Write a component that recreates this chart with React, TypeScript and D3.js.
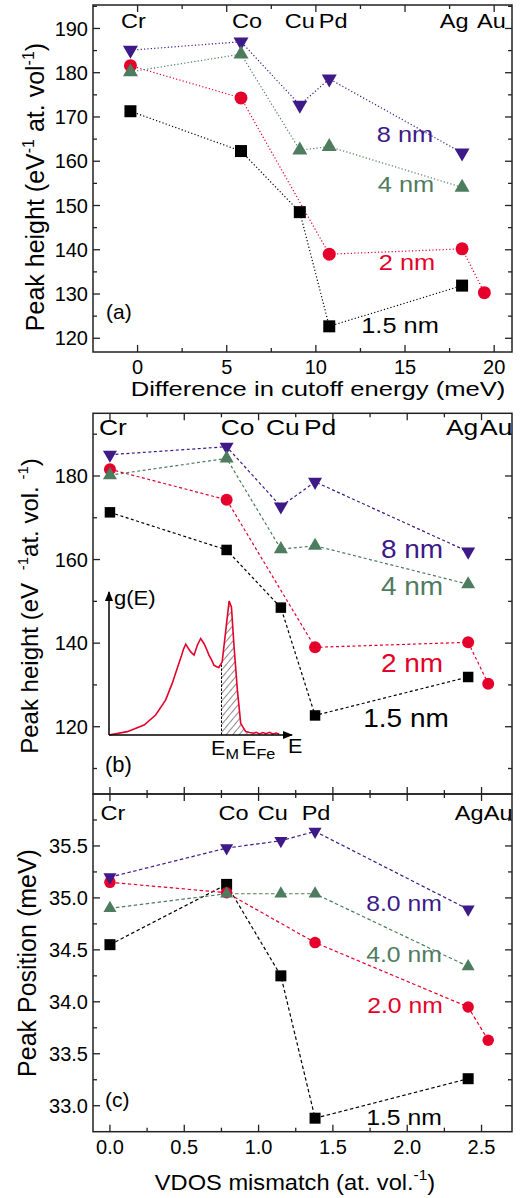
import React from 'react';
import * as d3 from 'd3';

// element order on every panel
const elements = ['Cr', 'Co', 'Cu', 'Pd', 'Ag', 'Au'];
const cutoffDiff = [-0.4, 5.8, 9.1, 10.75, 18.2, 19.45];
const vdosMismatch = [0, 0.785, 1.15, 1.38, 2.41, 2.545];

// peak height (eV-1 at. vol-1), null = no point
const height15 = [171.3, 162.3, 148.5, 122.7, 131.9, null];
const height2 = [181.6, 174.3, null, 139.0, 140.2, 130.3];
const height4 = [180.2, 184.2, 162.5, 163.3, 154.1, null];
const height8 = [185.1, 187.0, 172.7, 178.6, 161.9, null];

// peak position (meV)
const pos15 = [34.55, 35.13, 34.25, 32.88, 33.26, null];
const pos2 = [35.15, 35.05, null, 34.57, 33.95, 33.63];
const pos4 = [34.9, 35.04, 35.04, 35.04, 34.34, null];
const pos8 = [35.2, 35.48, 35.55, 35.64, 34.89, null];

// inset g(E) sketch
const insetE = [0, 5.5, 10.6, 14.1, 17.1, 19.1, 20.6, 21.8, 22.5, 23.2, 24.0, 24.7, 25.7, 26.7, 27.7, 28.7, 29.5, 30.2, 31.0, 31.7, 32.5, 33.2, 34.2, 35.3, 36.3, 37.0, 37.8, 38.8, 39.8, 41.3, 42.5, 43.8, 44.5, 45.5, 46.5, 47.5, 48.5, 49.5, 50.5, 51.4];
const insetG = [0, 0.025, 0.074, 0.149, 0.26, 0.385, 0.497, 0.583, 0.64, 0.678, 0.645, 0.62, 0.596, 0.67, 0.72, 0.683, 0.64, 0.596, 0.56, 0.521, 0.51, 0.504, 0.546, 0.782, 1.0, 0.955, 0.657, 0.335, 0.087, 0.025, 0.018, 0.013, 0.02, 0.008, 0.018, 0.01, 0.02, 0.008, 0.015, 0.007];
const energyM = 34.0;

const PURPLE = '#3d1a87';
const GREEN = '#4e7c5f';
const RED = '#e4002b';
const BLACK = '#000';
const FONT = '"Liberation Sans", Arial, sans-serif';

type Series = { key: string; color: string; shape: 'square' | 'circle' | 'up' | 'down' };
const series: Series[] = [
  { key: '1.5', color: BLACK, shape: 'square' },
  { key: '2', color: RED, shape: 'circle' },
  { key: '8', color: PURPLE, shape: 'down' },
  { key: '4', color: GREEN, shape: 'up' },
];
const heightData: Record<string, (number | null)[]> = { '1.5': height15, '2': height2, '4': height4, '8': height8 };
const posData: Record<string, (number | null)[]> = { '1.5': pos15, '2': pos2, '4': pos4, '8': pos8 };

const L = 93, R = 512;

// text stretched horizontally (the figure's lettering is wider than Arial)
function ST({ x, y, size, k = 1.18, fill = BLACK, anchor = 'middle', children }: any) {
  return (
    <text transform={`translate(${x},${y}) scale(${k},1)`} fontFamily={FONT} fontSize={size} fill={fill} textAnchor={anchor}>
      {children}
    </text>
  );
}

function Marker({ x, y, s, color }: { x: number; y: number; s: { shape: string; size: number }; color: string }) {
  let d: string | null = null;
  let rot = 0;
  if (s.shape === 'square') d = d3.symbol().type(d3.symbolSquare).size(s.size * s.size)();
  if (s.shape === 'circle') d = d3.symbol().type(d3.symbolCircle).size(Math.PI * (s.size / 2) ** 2)();
  if (s.shape === 'up' || s.shape === 'down') {
    d = d3.symbol().type(d3.symbolTriangle).size((Math.sqrt(3) / 4) * s.size * s.size)();
    if (s.shape === 'down') rot = 180;
  }
  return <path d={d || ''} transform={`translate(${x},${y}) rotate(${rot})`} fill={color} />;
}

function Frame({ x, y, xMajor, xMinor, yMajor, yMinor, xFmt, yFmt, tickFont }: any) {
  const [x0, x1] = x.range();
  const [y1, y0] = y.range();
  const M = 7, m = 4;
  const out: any[] = [];
  xMajor.forEach((v: number, i: number) => {
    const px = x(v);
    out.push(<line key={'xt' + i} x1={px} x2={px} y1={y1} y2={y1 - M} />);
    out.push(<line key={'xtt' + i} x1={px} x2={px} y1={y0} y2={y0 + M} />);
  });
  xMinor.forEach((v: number, i: number) => {
    const px = x(v);
    out.push(<line key={'xm' + i} x1={px} x2={px} y1={y1} y2={y1 - m} />);
    out.push(<line key={'xmt' + i} x1={px} x2={px} y1={y0} y2={y0 + m} />);
  });
  yMajor.forEach((v: number, i: number) => {
    const py = y(v);
    out.push(<line key={'yt' + i} x1={x0} x2={x0 + M} y1={py} y2={py} />);
    out.push(<line key={'ytr' + i} x1={x1} x2={x1 - M} y1={py} y2={py} />);
  });
  yMinor.forEach((v: number, i: number) => {
    const py = y(v);
    out.push(<line key={'ym' + i} x1={x0} x2={x0 + m} y1={py} y2={py} />);
    out.push(<line key={'ymr' + i} x1={x1} x2={x1 - m} y1={py} y2={py} />);
  });
  return (
    <g>
      <g stroke="#222" strokeWidth={1.3}>{out}</g>
      <rect x={x0} y={y0} width={x1 - x0} height={y1 - y0} fill="none" stroke="#222" strokeWidth={1.5} />
      {yFmt && (
        <g fontSize={tickFont} fontFamily={FONT} textAnchor="end">
          {yMajor.map((v: number, i: number) => (
            <text key={i} x={x0 - 5} y={y(v)} dy="0.36em">{yFmt(v)}</text>
          ))}
        </g>
      )}
      {xFmt && (
        <g fontSize={tickFont} fontFamily={FONT} textAnchor="middle">
          {xMajor.map((v: number, i: number) => (
            <text key={i} x={x(v)} y={y1 + 22}>{xFmt(v)}</text>
          ))}
        </g>
      )}
    </g>
  );
}

function SeriesMarks({ xs, data, x, y, dash, sizes }: any) {
  return (
    <g>
      {series.map((s) => {
        const pts = xs
          .map((xv: number, i: number) => [xv, data[s.key][i]])
          .filter((p: any) => p[1] !== null) as [number, number][];
        const line = d3.line<[number, number]>().x((p) => x(p[0])).y((p) => y(p[1]));
        return (
          <path key={'l' + s.key} d={line(pts) || ''} fill="none" stroke={s.color} strokeWidth={1.2} strokeDasharray={dash} />
        );
      })}
      {series.map((s) =>
        xs.map((xv: number, i: number) => {
          const v = data[s.key][i];
          if (v === null) return null;
          return <Marker key={s.key + i} x={x(xv)} y={y(v)} s={{ shape: s.shape, size: sizes[s.shape] }} color={s.color} />;
        })
      )}
    </g>
  );
}

function ElementLabels({ xs, x, offsets, baseline, size, k }: any) {
  return (
    <g>
      {elements.map((e, i) => (
        <ST key={e} x={x(xs[i]) + offsets[i]} y={baseline} size={size} k={k}>{e}</ST>
      ))}
    </g>
  );
}

export default function App() {
  // panel (a)
  const xa = d3.scaleLinear().domain([-2.5, 21]).range([L, R]);
  const ya = d3.scaleLinear().domain([116.9, 195.3]).range([352, 5]);
  // panel (b)
  const xb = d3.scaleLinear().domain([-0.114, 2.705]).range([L, R]);
  const yb = d3.scaleLinear().domain([103.9, 195]).range([794, 413.3]);
  // panel (c)
  const yc = d3.scaleLinear().domain([32.75, 36.0]).range([1131.7, 794]);

  const vdosMajor = [0, 0.5, 1, 1.5, 2, 2.5];
  const vdosMinor = [0.25, 0.75, 1.25, 1.75, 2.25];

  // inset
  const ix = d3.scaleLinear().domain([0, 55]).range([109, 291]);
  const iy = d3.scaleLinear().domain([0, 1]).range([735, 601]);
  const insetPts = insetE.map((e, i) => [e, insetG[i]] as [number, number]);
  const curve = d3.line<[number, number]>().x((p) => ix(p[0])).y((p) => iy(p[1]));
  const area = d3.area<[number, number]>().x((p) => ix(p[0])).y0(iy(0)).y1((p) => iy(p[1]));
  const gAtM = d3.scaleLinear().domain(insetE).range(insetG)(energyM);

  return (
    <svg width={531} height={1198} style={{ position: 'absolute', left: 0, top: 0, background: '#fff' }}>
      <defs>
        <pattern id="hatch" width={5} height={5} patternUnits="userSpaceOnUse" patternTransform="rotate(40)">
          <line x1={0} y1={0} x2={0} y2={5} stroke="#000" strokeWidth={0.9} />
        </pattern>
        <clipPath id="hatchClip">
          <rect x={ix(energyM)} y={590} width={80} height={150} />
        </clipPath>
        <marker id="arrow" viewBox="0 0 10 10" refX={9} refY={5} markerWidth={7} markerHeight={7} orient="auto">
          <path d="M0,1 L10,5 L0,9 Z" fill="#000" />
        </marker>
      </defs>

      {/* ---------- (a) ---------- */}
      <Frame x={xa} y={ya} xMajor={[0, 5, 10, 15, 20]} xMinor={[2.5, 7.5, 12.5, 17.5]}
        yMajor={d3.range(120, 191, 10)} yMinor={d3.range(125, 196, 10)}
        xFmt={(v: number) => String(v)} yFmt={(v: number) => String(v)} tickFont={20} />
      <SeriesMarks xs={cutoffDiff} data={heightData} x={xa} y={ya} dash="1.2 2.2"
        sizes={{ square: 12, circle: 13, up: 15, down: 15 }} />
      <ElementLabels xs={cutoffDiff} x={xa} offsets={[3, 6, 0, 4, -8, 7]} baseline={28} size={21} k={1.12} />
      <ST x={405} y={142} size={21.5} fill={PURPLE}>8 nm</ST>
      <ST x={406} y={192} size={21.5} fill={GREEN}>4 nm</ST>
      <ST x={407} y={270} size={21.5} fill={RED}>2 nm</ST>
      <ST x={400} y={333} size={21.5}>1.5 nm</ST>
      <text x={106} y={319} fontFamily={FONT} fontSize={21}>(a)</text>
      <ST x={318} y={396} size={21} k={1.22}>Difference in cutoff energy (meV)</ST>
      <text transform="translate(44,187) rotate(-90)" fontFamily={FONT} fontSize={25} textAnchor="middle">
        Peak height (eV<tspan fontSize={16} dy={-10}>-1</tspan><tspan dy={10}> at. vol</tspan>
        <tspan fontSize={16} dy={-10}>-1</tspan><tspan dy={10}>)</tspan>
      </text>

      {/* ---------- (b) ---------- */}
      <Frame x={xb} y={yb} xMajor={vdosMajor} xMinor={vdosMinor}
        yMajor={[120, 140, 160, 180]} yMinor={[110, 130, 150, 170, 190]}
        yFmt={(v: number) => String(v)} tickFont={20} />
      <SeriesMarks xs={vdosMismatch} data={heightData} x={xb} y={yb} dash="3 2.5"
        sizes={{ square: 10.5, circle: 12, up: 14, down: 14 }} />
      <ElementLabels xs={vdosMismatch} x={xb} offsets={[3, 11, 2, 5, -6, 8]} baseline={435} size={22} k={1.2} />
      <ST x={412} y={558} size={25} k={1.12} fill={PURPLE}>8 nm</ST>
      <ST x={412} y={595} size={25} k={1.12} fill={GREEN}>4 nm</ST>
      <ST x={412} y={672} size={25} k={1.12} fill={RED}>2 nm</ST>
      <ST x={406} y={727} size={25} k={1.12}>1.5 nm</ST>
      <text x={105} y={772} fontFamily={FONT} fontSize={22}>(b)</text>
      <text transform="translate(38,606) rotate(-90)" fontFamily={FONT} fontSize={24} textAnchor="middle">
        Peak height (eV <tspan fontSize={15} dy={-10} dx={6}>-1</tspan><tspan dy={10}>at. vol. </tspan>
        <tspan fontSize={15} dy={-10}>-1</tspan><tspan dy={10}>)</tspan>
      </text>

      {/* inset */}
      <g>
        <path d={area(insetPts.filter((p) => p[0] >= energyM - 1)) || ''} fill="url(#hatch)" clipPath="url(#hatchClip)" />
        <line x1={ix(energyM)} x2={ix(energyM)} y1={iy(0)} y2={iy(gAtM)} stroke="#000" strokeWidth={1} strokeDasharray="2.5 1.5" />
        <path d={curve(insetPts) || ''} fill="none" stroke={RED} strokeWidth={1.6} />
        <line x1={ix(0)} y1={iy(0)} x2={ix(0)} y2={592} stroke="#000" strokeWidth={1.5} markerEnd="url(#arrow)" />
        <line x1={ix(0)} y1={iy(0)} x2={292} y2={iy(0)} stroke="#000" strokeWidth={1.5} markerEnd="url(#arrow)" />
        <ST x={114} y={605} size={21} k={1.05} anchor="start">g(E)</ST>
        <ST x={211} y={755} size={20} k={1.08} anchor="start">E<tspan fontSize={15} dy={4}>M</tspan></ST>
        <ST x={242} y={755} size={20} k={1.08} anchor="start">E<tspan fontSize={15} dy={4}>Fe</tspan></ST>
        <ST x={288} y={753} size={20} k={1.08} anchor="start">E</ST>
      </g>

      {/* ---------- (c) ---------- */}
      <Frame x={xb} y={yc} xMajor={vdosMajor} xMinor={vdosMinor}
        yMajor={[33, 33.5, 34, 34.5, 35, 35.5]} yMinor={[33.25, 33.75, 34.25, 34.75, 35.25, 35.75]}
        xFmt={(v: number) => v.toFixed(1)} yFmt={(v: number) => v.toFixed(1)} tickFont={20} />
      <SeriesMarks xs={vdosMismatch} data={posData} x={xb} y={yc} dash="3.5 2.5"
        sizes={{ square: 11, circle: 11.5, up: 13, down: 13 }} />
      <ElementLabels xs={vdosMismatch} x={xb} offsets={[3, 7, -8, 1, 1, 10]} baseline={820} size={21} k={1.12} />
      <ST x={404} y={911} size={21.5} k={1.15} fill={PURPLE}>8.0 nm</ST>
      <ST x={404} y={962} size={21.5} k={1.15} fill={GREEN}>4.0 nm</ST>
      <ST x={405} y={1013} size={21.5} k={1.15} fill={RED}>2.0 nm</ST>
      <ST x={404} y={1125} size={21.5} k={1.15}>1.5 nm</ST>
      <text x={105} y={1107} fontFamily={FONT} fontSize={21}>(c)</text>
      <ST x={295} y={1190} size={21.5} k={1.1}>
        VDOS mismatch (at. vol.<tspan fontSize={14} dy={-10}>-1</tspan><tspan dy={10}>)</tspan>
      </ST>
      <text transform="translate(36,963) rotate(-90)" fontFamily={FONT} fontSize={25} textAnchor="middle">
        Peak Position (meV)
      </text>
    </svg>
  );
}
